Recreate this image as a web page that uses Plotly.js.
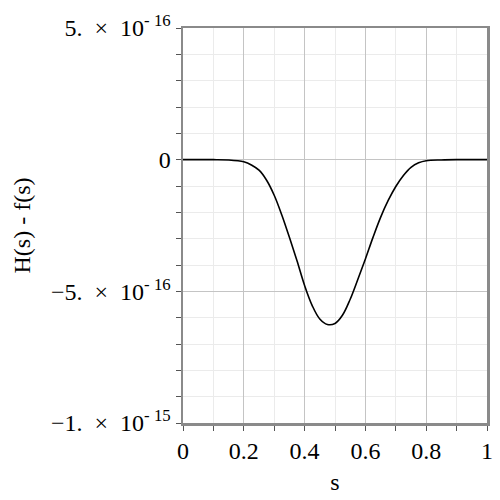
<!DOCTYPE html>
<html>
<head>
<meta charset="utf-8">
<script src="https://cdn.plot.ly/plotly-3.0.1.min.js"></script>
<style>
  html, body { margin: 0; padding: 0; background: #fff; }
  #plot { width: 500px; height: 500px; }
</style>
</head>
<body>
<div id="plot"></div>
<script>
// s values and H(s) - f(s), the latter in units of 1e-16
const sVals = [0, 0.05, 0.1, 0.15, 0.2, 0.225, 0.25, 0.275, 0.3, 0.325, 0.35, 0.375, 0.4, 0.425, 0.45, 0.475,
               0.5, 0.525, 0.55, 0.575, 0.6, 0.625, 0.65, 0.675, 0.7, 0.725, 0.75, 0.775, 0.8, 0.85, 0.9, 0.95, 1];
const diffVals = [0, 0, 0, -0.01, -0.08, -0.2, -0.4, -0.78, -1.35, -2.1, -2.95, -3.84, -4.78, -5.54, -6.05, -6.26,
                  -6.22, -5.9, -5.3, -4.55, -3.77, -2.95, -2.19, -1.55, -1.02, -0.6, -0.29, -0.12, -0.04, -0.01, 0, 0, 0];
const SCALE = 1e-16;

const xTicks = [0, 0.2, 0.4, 0.6, 0.8, 1];
const xTickText = ['0', '0.2', '0.4', '0.6', '0.8', '1'];
const yTicks = [-10, -5, 0, 5];
const yTickText = [
    '\u22121.\u2002\u00d7\u200210<sup>- 15</sup>',
    '\u22125.\u2002\u00d7\u200210<sup>- 16</sup>',
    '0',
    '5.\u2002\u00d7\u200210<sup>- 16</sup>'
];

const serif = '"Times New Roman", "Liberation Serif", Tinos, serif';

const trace = {
    x: sVals,
    y: diffVals.map(v => v * SCALE),
    mode: 'lines',
    line: { color: '#000', width: 1.6, shape: 'spline', smoothing: 1 },
    hoverinfo: 'skip',
    type: 'scatter'
};

const axisCommon = {
    showline: true,
    linecolor: '#8a8a8a',
    linewidth: 2.5,
    mirror: true,
    zeroline: false,
    ticks: 'outside',
    ticklen: 5,
    tickwidth: 1,
    tickcolor: '#555',
    gridcolor: '#c4c4c4',
    gridwidth: 1,
    tickfont: { family: serif, size: 24, color: '#000' }
};

const layout = {
    width: 500,
    height: 500,
    margin: { l: 183, r: 13, t: 28, b: 77 },
    paper_bgcolor: '#fff',
    plot_bgcolor: '#fff',
    showlegend: false,
    xaxis: Object.assign({}, axisCommon, {
        range: [0, 1],
        tickmode: 'array',
        tickvals: xTicks,
        ticktext: xTickText,
        minor: { tickmode: 'linear', tick0: 0, dtick: 0.1, showgrid: true, gridcolor: '#ebebeb', ticks: 'outside', ticklen: 5, tickcolor: '#555' },
        title: { text: 's', font: { family: serif, size: 24, color: '#000' }, standoff: 10 }
    }),
    yaxis: Object.assign({}, axisCommon, {
        range: [-10 * SCALE, 5 * SCALE],
        tickmode: 'array',
        tickvals: yTicks.map(v => v * SCALE),
        ticktext: yTickText,
        minor: { tickmode: 'linear', tick0: 0, dtick: SCALE, showgrid: true, gridcolor: '#ebebeb', ticks: 'outside', ticklen: 5, tickcolor: '#555' },
        title: { text: 'H(s) - f(s)', font: { family: serif, size: 24, color: '#000' }, standoff: 14 }
    })
};

Plotly.newPlot('plot', [trace], layout, { staticPlot: true, displayModeBar: false });
</script>
</body>
</html>
